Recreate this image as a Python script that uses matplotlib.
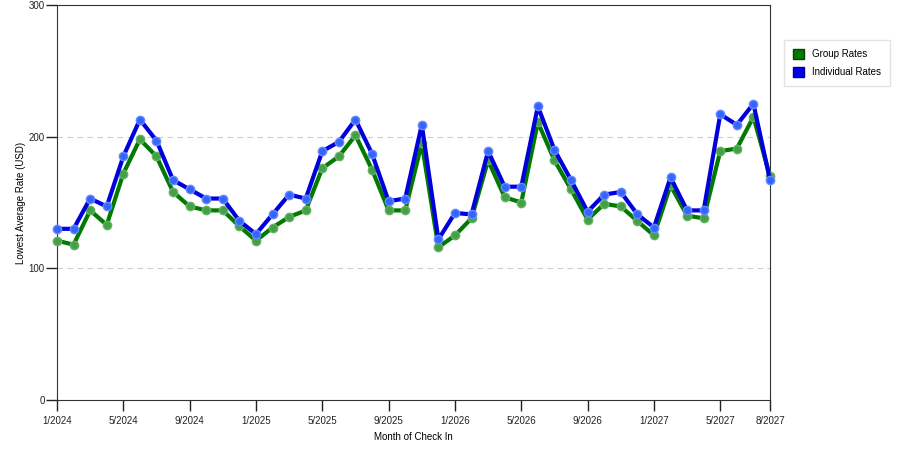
import matplotlib
matplotlib.use("Agg")
import matplotlib.pyplot as plt
from matplotlib.patches import Patch

# months Jan 2024 .. Aug 2027
months = [f"{m}/{y}" for y in (2024, 2025, 2026, 2027) for m in range(1, 13)][:44]

group_rates = [121, 118, 144, 133, 172, 198, 185, 158, 147, 144, 144, 132,
               121, 131, 139, 144, 176, 185, 201, 175, 144, 144, 195, 116,
               125, 138, 182, 154, 150, 211, 182, 160, 137, 149, 147, 136,
               125, 163, 140, 138, 189, 191, 215, 170]
individual_rates = [130, 130, 153, 147, 185, 213, 197, 167, 160, 153, 153, 136,
                    126, 141, 156, 153, 189, 196, 213, 187, 151, 153, 209, 122,
                    142, 141, 189, 162, 162, 223, 190, 167, 143, 156, 158, 141,
                    131, 169, 144, 144, 217, 209, 225, 167]

x = list(range(len(months)))
tick_idx = x[::4] + [x[-1]]

plt.rcParams['font.family'] = ['Liberation Sans', 'DejaVu Sans']

fig = plt.figure(figsize=(9, 4.5), dpi=100)
ax = fig.add_axes([57 / 900, 1 - 400 / 450, (770 - 57) / 900, 395 / 450])

ax.plot(x, group_rates, color='#007a00', lw=3, marker='o', ms=6,
        mfc='#44a044', mec='#66b066', mew=1, zorder=3, clip_on=False)
ax.plot(x, individual_rates, color='#0000dd', lw=3, marker='o', ms=6,
        mfc='#3366ff', mec='#6688ff', mew=1, zorder=4, clip_on=False)

ax.set_xlim(0, len(months) - 1)
ax.set_ylim(0, 300)
ax.set_yticks([0, 100, 200, 300])
ax.set_xticks(tick_idx)
ax.set_xticklabels([months[i] for i in tick_idx])
ax.tick_params(direction='out', length=8, width=1, labelsize=7, colors='#222222')
ax.tick_params(axis='y', pad=1)
for y in (100, 200):
    ax.axhline(y, color='#cccccc', lw=0.8, ls=(0, (5, 4)), zorder=1)
for s in ax.spines.values():
    s.set_color('#333333')

ax.set_xlabel("Month of Check In", fontsize=7)
ax.set_ylabel("Lowest Average Rate (USD)", fontsize=7, labelpad=2)

handles = [Patch(facecolor='#007a00', edgecolor='#004400', label='Group Rates'),
           Patch(facecolor='#0000ee', edgecolor='#000088', label='Individual Rates')]
fig.legend(handles=handles, loc='upper left', bbox_to_anchor=(779 / 900, 1 - 35 / 450),
           fontsize=7, frameon=True, fancybox=False, edgecolor='#dddddd',
           handlelength=1.2, handleheight=1.2, borderpad=0.9, labelspacing=0.8)

fig.savefig("out.png", dpi=100)
